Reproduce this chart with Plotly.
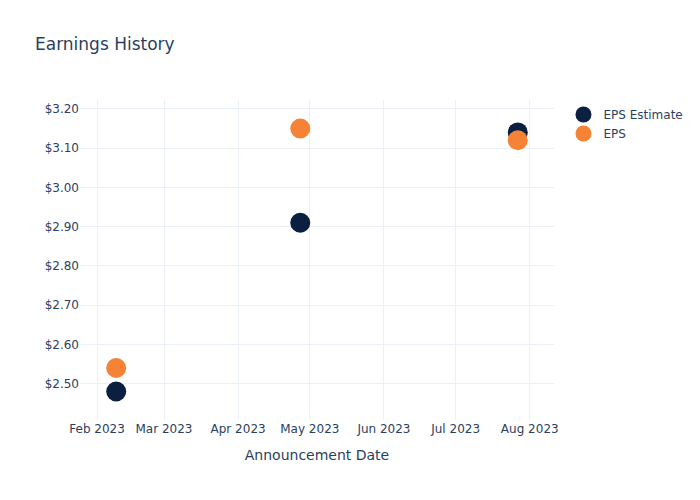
import plotly.graph_objects as go

dates = ["2023-02-09", "2023-04-27", "2023-07-27"]
eps_estimate = [2.48, 2.91, 3.14]
eps_actual = [2.54, 3.15, 3.12]

fig = go.Figure()
fig.add_trace(go.Scatter(x=dates, y=eps_estimate, mode="markers", name="EPS Estimate",
                         marker=dict(color="#0b1f41", size=20)))
fig.add_trace(go.Scatter(x=dates, y=eps_actual, mode="markers", name="EPS",
                         marker=dict(color="#f58235", size=20)))
fig.update_layout(
    template="plotly_white",
    width=700, height=500,
    font=dict(family="DejaVu Sans"),
    title=dict(text="Earnings History"),
    xaxis=dict(title=dict(text="Announcement Date"), dtick="M1", tickformat="%b %Y"),
    yaxis=dict(tickprefix="$", tickformat=".2f", dtick=0.1),
)
fig.write_html("out.html")
